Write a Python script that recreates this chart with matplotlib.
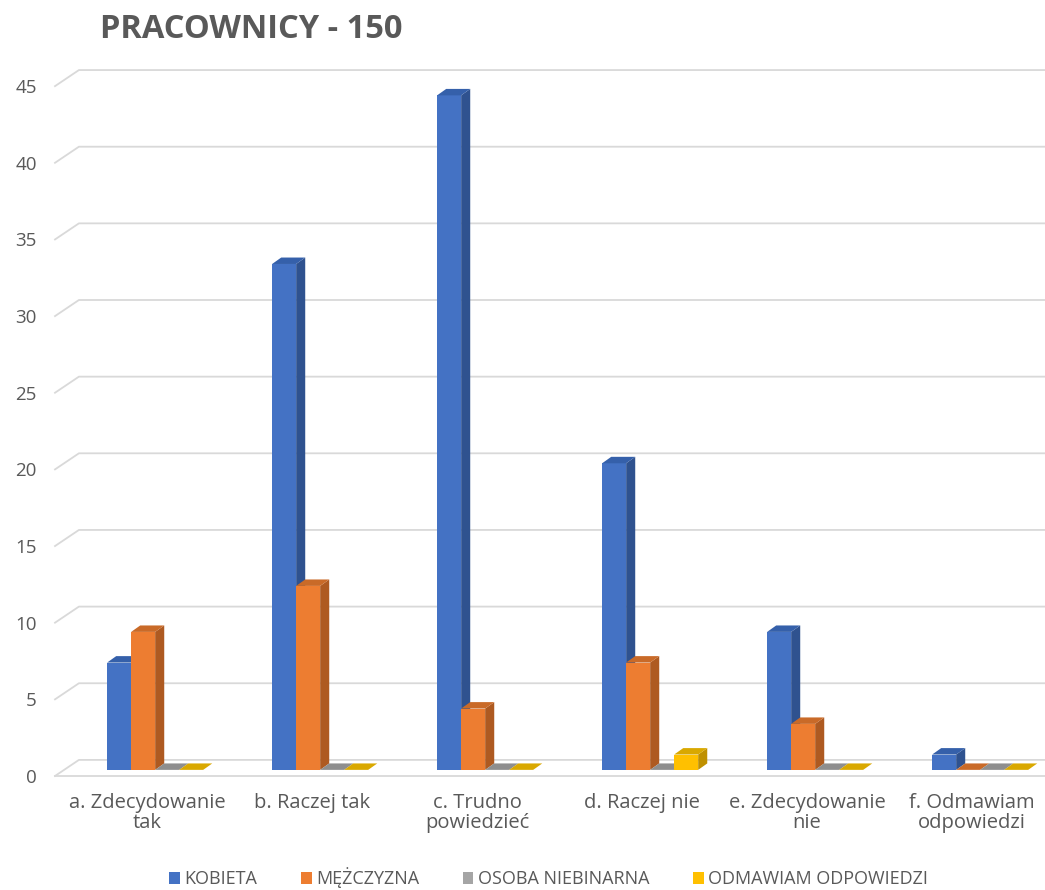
import numpy as np
import matplotlib
matplotlib.use("Agg")
import matplotlib.pyplot as plt
from matplotlib.patches import Polygon, Patch

plt.rcParams['font.family'] = ['Open Sans', 'DejaVu Sans']

categories = ["a. Zdecydowanie\ntak", "b. Raczej tak", "c. Trudno\npowiedzieć",
              "d. Raczej nie", "e. Zdecydowanie\nnie", "f. Odmawiam\nodpowiedzi"]
series_names = ["KOBIETA", "MĘŻCZYZNA", "OSOBA NIEBINARNA", "ODMAWIAM ODPOWIEDZI"]
kobieta = [7, 33, 44, 20, 9, 1]
mezczyzna = [9, 12, 4, 7, 3, 0]
niebinarna = [0, 0, 0, 0, 0, 0]
odmawiam = [0, 0, 0, 1, 0, 0]
yticks = [0, 5, 10, 15, 20, 25, 30, 35, 40, 45]

front_colors = ["#4472C4", "#ED7D31", "#A5A5A5", "#FFC000"]
side_colors = ["#2F528F", "#AE5A21", "#7C7C7C", "#BF9000"]
top_colors = ["#3560AA", "#C96A28", "#8E8E8E", "#D9A800"]
text_color = "#595959"
grid_color = "#D9D9D9"

fig = plt.figure(figsize=(10.45, 8.9), dpi=100)
ax = fig.add_axes([55 / 1045, 1 - 776 / 890, 990 / 1045, (776 - 60) / 890])
xmin, xmax = -0.558, 5.442
ax.set_xlim(xmin, xmax)
ax.set_ylim(0, (776 - 60) / 15.33)

# depth offsets (data units)
wall_dx, wall_dy = 0.145, 1.05
bar_dx, bar_dy = 0.055, 0.42
base = 0.4
width = 0.1455
group_left = -0.242

# back wall gridlines + diagonal to the front
for v in yticks:
    ax.plot([xmin, xmin + wall_dx, xmax], [v, v + wall_dy, v + wall_dy],
            color=grid_color, lw=1.3, zorder=1, clip_on=False)
ax.plot([xmin, xmax], [0, 0], color=grid_color, lw=1.3, zorder=1, clip_on=False)

all_series = [kobieta, mezczyzna, niebinarna, odmawiam]
x = np.arange(len(categories))
z = 2
for gi in range(len(categories)):
    for si, vals in enumerate(all_series):
        v = vals[gi]
        x0 = x[gi] + group_left + si * width
        x1 = x0 + width
        top = base + v
        if v > 0:
            ax.bar(x0, v, width=width, bottom=base, align='edge',
                   color=front_colors[si], zorder=z, linewidth=0)
            ax.add_patch(Polygon([(x1, base), (x1 + bar_dx, base + bar_dy),
                                  (x1 + bar_dx, top + bar_dy), (x1, top)],
                                 closed=True, facecolor=side_colors[si],
                                 edgecolor='none', zorder=z))
        ax.add_patch(Polygon([(x0, top), (x0 + bar_dx, top + bar_dy),
                              (x1 + bar_dx, top + bar_dy), (x1, top)],
                             closed=True, facecolor=top_colors[si],
                             edgecolor='none', zorder=z))
        z += 1

ax.set_yticks(yticks)
ax.set_yticklabels([str(t) for t in yticks], fontsize=13.5, color=text_color)
ax.set_xticks(x)
ax.set_xticklabels(categories, fontsize=14.5, color=text_color, linespacing=1.05)
ax.tick_params(axis='y', length=0, pad=13)
ax.tick_params(axis='x', length=0, pad=12)
for s in ax.spines.values():
    s.set_visible(False)

fig.text(100 / 1045, 1 - 30 / 890, "PRACOWNICY - 150", fontsize=23.5, fontweight='bold',
         color=text_color, va='center', ha='left')

handles = [Patch(facecolor=c, edgecolor='none') for c in front_colors]
fig.legend(handles, series_names, loc='center', bbox_to_anchor=(0.525, 1 - 878 / 890),
           ncol=4, frameon=False, fontsize=13, labelcolor=text_color,
           handlelength=0.6, handleheight=0.6, handletextpad=0.25, columnspacing=2.4)

fig.savefig("out.png", dpi=100)
